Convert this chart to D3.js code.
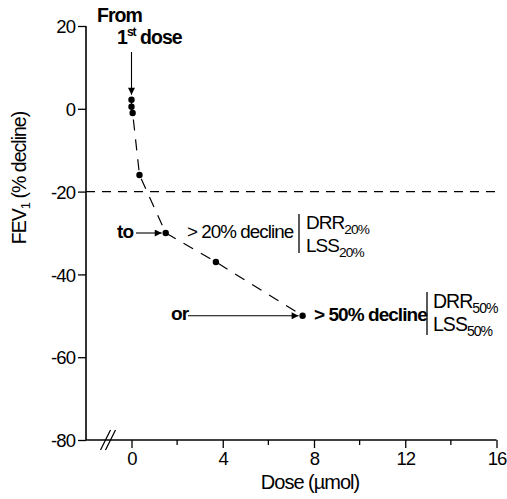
<!DOCTYPE html>
<html>
<head>
<meta charset="utf-8">
<script src="https://cdn.jsdelivr.net/npm/d3@7/dist/d3.min.js"></script>
<style>
  html, body { margin: 0; padding: 0; background: #fff; }
  svg text { font-family: "Liberation Sans", Arial, sans-serif; fill: #000; letter-spacing: -0.05em; }
</style>
</head>
<body>
<svg id="chart" width="507" height="499"></svg>
<script>
// Cumulative dose (µmol) and FEV1 change (% decline)
const doses = [0, 0, 0.05, 0.35, 1.5, 3.7, 7.5];
const fev1 = [2.2, 0.5, -1, -16, -30, -37, -50];
const xTicks = [0, 4, 8, 12, 16];
const xMinorTicks = [2, 6, 10, 14];
const yTicks = [20, 0, -20, -40, -60, -80];
const threshold = -20;

const svg = d3.select("#chart");
const plotLeft = 86, plotBottom = 440;

const x = d3.scaleLinear().domain([0, 16]).range([131.5, 496.5]);
const y = d3.scaleLinear().domain([-80, 20]).range([440, 26]);
const fmt = d => String(d);

// y axis
const yAxis = svg.append("g")
  .attr("transform", `translate(${plotLeft},0)`)
  .call(d3.axisLeft(y).tickValues(yTicks).tickSize(8).tickPadding(3).tickFormat(fmt));
yAxis.select(".domain").remove();
yAxis.append("line").attr("x1", 0).attr("x2", 0).attr("y1", y(20)).attr("y2", plotBottom)
  .attr("stroke", "#000").attr("stroke-width", 1.6);
yAxis.selectAll(".tick line").attr("stroke-width", 1.3);
yAxis.selectAll(".tick text").attr("font-size", 18.5).attr("dy", "0.36em");

// x axis
const xAxis = svg.append("g")
  .attr("transform", `translate(0,${plotBottom})`)
  .call(d3.axisBottom(x).tickValues(xTicks).tickSize(8).tickPadding(4).tickFormat(fmt));
xAxis.select(".domain").remove();
xAxis.append("line").attr("x1", plotLeft).attr("x2", x(16)).attr("y1", 0).attr("y2", 0)
  .attr("stroke", "#000").attr("stroke-width", 1.6);
xAxis.selectAll(".tick line").attr("stroke-width", 1.3);
xAxis.selectAll(".tick text").attr("font-size", 18.5);
xAxis.selectAll(".minor").data(xMinorTicks).enter().append("line")
  .attr("x1", d => x(d)).attr("x2", d => x(d)).attr("y1", 0).attr("y2", 5)
  .attr("stroke", "#000").attr("stroke-width", 1.3);

// axis break marks
const brk = svg.append("g").attr("transform", `translate(108,${plotBottom})`);
[-2.5, 2.5].forEach(o => {
  brk.append("line").attr("x1", o - 5).attr("y1", 10).attr("x2", o + 5).attr("y2", -10)
    .attr("stroke", "#000").attr("stroke-width", 1.3);
});

// axis titles
svg.append("text").attr("x", 310).attr("y", 489).attr("text-anchor", "middle")
  .attr("font-size", 20).text("Dose (µmol)");
const yt = svg.append("text").attr("transform", "translate(26,178) rotate(-90)")
  .attr("text-anchor", "middle").attr("font-size", 19.5);
yt.append("tspan").text("FEV");
yt.append("tspan").attr("font-size", 13).attr("dy", 4).text("1");
yt.append("tspan").attr("dy", -4).text(" (% decline)");

// threshold line
svg.append("line").attr("x1", plotLeft).attr("x2", x(16)).attr("y1", y(threshold)).attr("y2", y(threshold))
  .attr("stroke", "#000").attr("stroke-width", 1.1).attr("stroke-dasharray", "9,7");

// dose-response curve
const pts = doses.map((d, i) => [d, fev1[i]]);
svg.append("path").datum(pts)
  .attr("d", d3.line().x(d => x(d[0])).y(d => y(d[1])))
  .attr("fill", "none").attr("stroke", "#000").attr("stroke-width", 1.2).attr("stroke-dasharray", "11,9");
svg.selectAll(".pt").data(pts).enter().append("circle")
  .attr("cx", d => x(d[0])).attr("cy", d => y(d[1])).attr("r", 3.2).attr("fill", "#000");

// arrow marker
svg.append("defs").append("marker").attr("id", "arr")
  .attr("viewBox", "0 0 10 10").attr("refX", 10).attr("refY", 5)
  .attr("markerWidth", 11).attr("markerHeight", 7).attr("markerUnits", "userSpaceOnUse")
  .attr("orient", "auto")
  .append("path").attr("d", "M0,0 L10,5 L0,10 Z").attr("fill", "#000");

function arrow(x1, y1, x2, y2) {
  svg.append("line").attr("x1", x1).attr("y1", y1).attr("x2", x2).attr("y2", y2)
    .attr("stroke", "#000").attr("stroke-width", 1.1).attr("marker-end", "url(#arr)");
}

// first dose annotation
svg.append("text").attr("x", 97).attr("y", 22).attr("font-size", 19.5).attr("font-weight", "bold").text("From");
const fd = svg.append("text").attr("x", 117).attr("y", 44).attr("font-size", 19.5).attr("font-weight", "bold");
fd.append("tspan").text("1");
fd.append("tspan").attr("font-size", 12).attr("dy", -8).text("st");
fd.append("tspan").attr("dy", 8).text(" dose");
arrow(x(doses[0]), 52, x(doses[0]), y(fev1[0]) - 5);

// 20% decline annotation
const p20 = 4;
svg.append("text").attr("x", 117).attr("y", 238).attr("font-size", 19).attr("font-weight", "bold").text("to");
arrow(136, y(fev1[p20]), x(doses[p20]) - 4, y(fev1[p20]));
svg.append("text").attr("x", 187).attr("y", 238).attr("font-size", 18.8).attr("letter-spacing", "-0.06em").text("> 20% decline");
svg.append("line").attr("x1", 299).attr("x2", 299).attr("y1", 214).attr("y2", 253).attr("stroke", "#000").attr("stroke-width", 1.3);
function subLabel(xp, yp, main, sub, size) {
  const t = svg.append("text").attr("x", xp).attr("y", yp).attr("font-size", size);
  t.append("tspan").text(main);
  t.append("tspan").attr("font-size", size * 0.72).attr("dy", 5).text(sub);
}
subLabel(306, 229, "DRR", "20%", 19);
subLabel(306, 252, "LSS", "20%", 19);

// 50% decline annotation
const p50 = 6;
svg.append("text").attr("x", 171).attr("y", 320).attr("font-size", 19).attr("font-weight", "bold").text("or");
arrow(188, y(fev1[p50]), x(doses[p50]) - 4, y(fev1[p50]));
svg.append("text").attr("x", 314).attr("y", 321).attr("font-size", 19).attr("font-weight", "bold").text("> 50% decline");
svg.append("line").attr("x1", 427).attr("x2", 427).attr("y1", 292).attr("y2", 335).attr("stroke", "#000").attr("stroke-width", 1.3);
subLabel(433, 308, "DRR", "50%", 19.5);
subLabel(433, 331, "LSS", "50%", 19.5);
</script>
</body>
</html>
